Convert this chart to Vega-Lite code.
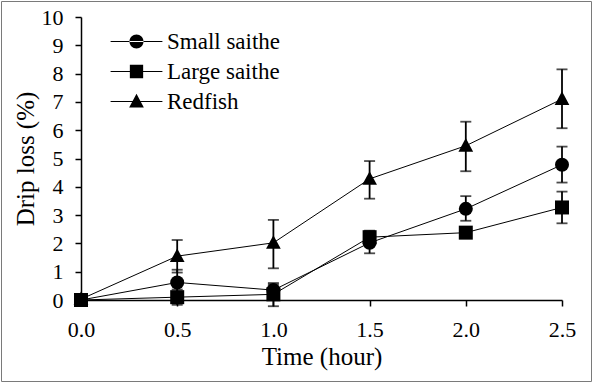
{
  "$schema": "https://vega.github.io/schema/vega-lite/v6.json",
  "width": 590,
  "height": 380,
  "padding": {"left": 1, "top": 1, "right": 1, "bottom": 1},
  "autosize": {"type": "none"},
  "background": "white",
  "config": {
    "view": {"stroke": "#7a7a7a", "strokeWidth": 1},
    "font": "Liberation Serif",
    "axis": {
      "labelFont": "Liberation Serif", "titleFont": "Liberation Serif",
      "labelFontSize": 22, "titleFontSize": 25, "labelColor": "black", "titleColor": "black",
      "titleFontWeight": "normal", "grid": false, "domainColor": "black", "domainWidth": 1.5,
      "tickColor": "black", "tickSize": 6, "tickWidth": 1.5, "labelOverlap": false, "labelFlush": false
    },
    "axisX": {"offset": -81, "labelPadding": 13, "titlePadding": 4},
    "axisY": {"offset": -80, "labelPadding": 12, "titlePadding": 3},
    "legend": {"labelFont": "Liberation Serif", "labelFontSize": 23, "labelColor": "black"}
  },
  "data": {
    "values": [
      {"series": "Small saithe", "t": 0.0, "mean": 0.0, "lo": 0.0, "hi": 0.0},
      {"series": "Small saithe", "t": 0.5, "mean": 0.62, "lo": 0.17, "hi": 1.07},
      {"series": "Small saithe", "t": 1.0, "mean": 0.35, "lo": 0.12, "hi": 0.55},
      {"series": "Small saithe", "t": 1.5, "mean": 2.02, "lo": 1.65, "hi": 2.37},
      {"series": "Small saithe", "t": 2.0, "mean": 3.22, "lo": 2.8, "hi": 3.67},
      {"series": "Small saithe", "t": 2.5, "mean": 4.78, "lo": 4.15, "hi": 5.42},
      {"series": "Large saithe", "t": 0.0, "mean": 0.0, "lo": 0.0, "hi": 0.0},
      {"series": "Large saithe", "t": 0.5, "mean": 0.1, "lo": -0.17, "hi": 0.37},
      {"series": "Large saithe", "t": 1.0, "mean": 0.2, "lo": -0.22, "hi": 0.6},
      {"series": "Large saithe", "t": 1.5, "mean": 2.22, "lo": 2.0, "hi": 2.45},
      {"series": "Large saithe", "t": 2.0, "mean": 2.38, "lo": 2.22, "hi": 2.55},
      {"series": "Large saithe", "t": 2.5, "mean": 3.27, "lo": 2.71, "hi": 3.83},
      {"series": "Redfish", "t": 0.0, "mean": 0.03, "lo": 0.0, "hi": 0.06},
      {"series": "Redfish", "t": 0.5, "mean": 1.55, "lo": 0.97, "hi": 2.12},
      {"series": "Redfish", "t": 1.0, "mean": 2.02, "lo": 1.12, "hi": 2.83},
      {"series": "Redfish", "t": 1.5, "mean": 4.28, "lo": 3.58, "hi": 4.91},
      {"series": "Redfish", "t": 2.0, "mean": 5.45, "lo": 4.55, "hi": 6.3},
      {"series": "Redfish", "t": 2.5, "mean": 7.1, "lo": 6.07, "hi": 8.15}
    ]
  },
  "encoding": {
    "x": {
      "field": "t", "type": "quantitative", "title": "Time (hour)",
      "scale": {"domain": [0, 2.5], "range": [80, 561], "nice": false, "zero": false},
      "axis": {"values": [0, 0.5, 1, 1.5, 2, 2.5], "format": ".1f"}
    },
    "y": {
      "field": "mean", "type": "quantitative", "title": "Drip loss (%)",
      "scale": {"domain": [0, 10], "range": [299, 16], "nice": false},
      "axis": {"values": [0, 1, 2, 3, 4, 5, 6, 7, 8, 9, 10]}
    }
  },
  "layer": [
    {
      "mark": {"type": "rule", "color": "black", "strokeWidth": 1.8},
      "encoding": {
        "y": {"field": "lo", "type": "quantitative", "title": "Drip loss (%)"},
        "y2": {"field": "hi"}
      }
    },
    {
      "mark": {"type": "tick", "orient": "horizontal", "color": "black", "size": 11, "thickness": 1.8},
      "encoding": {"y": {"field": "lo", "type": "quantitative", "title": "Drip loss (%)"}}
    },
    {
      "mark": {"type": "tick", "orient": "horizontal", "color": "black", "size": 11, "thickness": 1.8},
      "encoding": {"y": {"field": "hi", "type": "quantitative", "title": "Drip loss (%)"}}
    },
    {
      "mark": {"type": "line", "color": "black", "strokeWidth": 1},
      "encoding": {"detail": {"field": "series"}}
    },
    {
      "mark": {"type": "point", "filled": true, "color": "black", "opacity": 1, "size": 196},
      "encoding": {
        "shape": {
          "field": "series", "type": "nominal",
          "scale": {"domain": ["Small saithe", "Large saithe", "Redfish"], "range": ["circle", "square", "M0,-1.1L1.05,0.85L-1.05,0.85Z"]},
          "legend": null
        }
      }
    },
    {
      "transform": [{"filter": "false"}],
      "mark": {"type": "point", "filled": true, "color": "black", "opacity": 1, "size": 196},
      "encoding": {
        "shape": {
          "field": "series", "type": "nominal",
          "scale": {"domain": ["Small saithe", "Large saithe", "Redfish"], "range": [
            "M-3.7,-0.08H3.7V0.08H-3.7Z M-1,0A1,1 0 1,0 1,0A1,1 0 1,0 -1,0Z",
            "M-3.7,-0.08H3.7V0.08H-3.7Z M-0.95,-0.95H0.95V0.95H-0.95Z",
            "M-3.7,-0.08H3.7V0.08H-3.7Z M0,-1.1L1.05,0.85L-1.05,0.85Z"
          ]},
          "legend": {
            "title": null, "orient": "none", "legendX": 124, "legendY": 29,
            "padding": 0, "symbolSize": 196, "labelOffset": 19, "rowPadding": 6,
            "labelFont": "Liberation Serif", "labelFontSize": 23, "labelColor": "black",
            "symbolFillColor": "black", "symbolStrokeWidth": 0, "symbolOpacity": 1
          }
        }
      }
    }
  ],
  "resolve": {"scale": {"shape": "independent"}, "legend": {"shape": "independent"}}
}
